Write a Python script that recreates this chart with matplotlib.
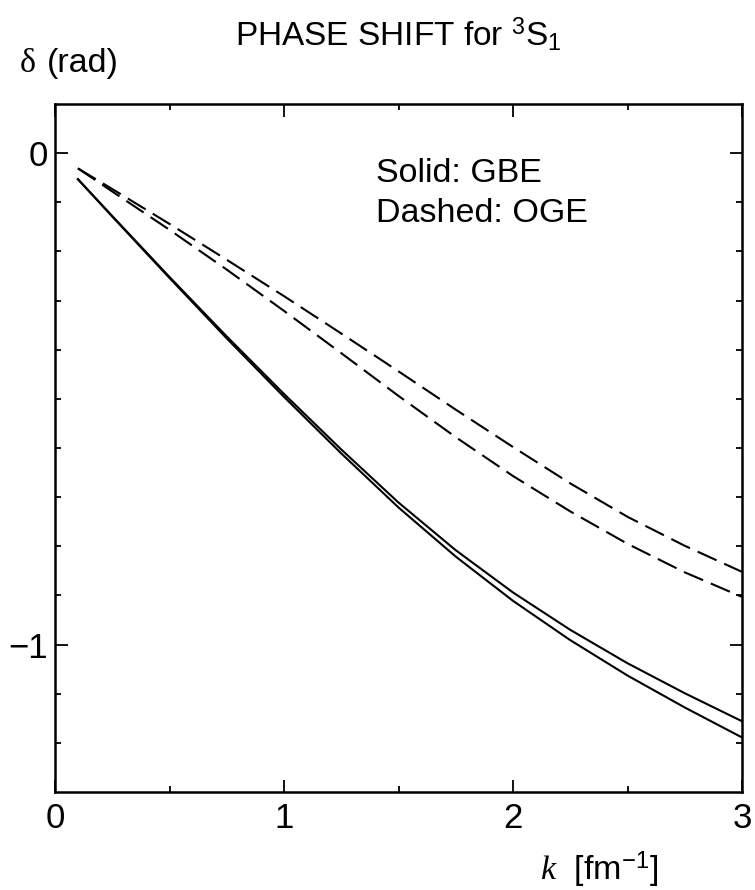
import matplotlib
matplotlib.use("Agg")
import matplotlib.pyplot as plt

plt.rcParams["font.family"] = ["Liberation Sans", "DejaVu Sans"]
plt.rcParams["mathtext.fontset"] = "custom"
plt.rcParams["mathtext.rm"] = "Liberation Sans"
plt.rcParams["mathtext.it"] = "Liberation Serif:italic"

# momentum k [fm^-1]
k = [0.1, 0.25, 0.5, 0.75, 1.0, 1.25, 1.5, 1.75, 2.0, 2.25, 2.5, 2.75, 3.0]

# GBE (solid), two curves
gbe_a = [-0.053, -0.128, -0.252, -0.373, -0.490, -0.603, -0.711, -0.808,
         -0.894, -0.970, -1.038, -1.099, -1.156]
gbe_b = [-0.053, -0.129, -0.254, -0.377, -0.496, -0.611, -0.721, -0.821,
         -0.911, -0.991, -1.063, -1.128, -1.189]

# OGE (dashed), two curves
oge_a = [-0.031, -0.073, -0.144, -0.217, -0.291, -0.367, -0.444, -0.522,
         -0.598, -0.672, -0.740, -0.799, -0.852]
oge_b = [-0.031, -0.078, -0.156, -0.237, -0.321, -0.407, -0.494, -0.578,
         -0.657, -0.729, -0.795, -0.853, -0.903]

W, H = 755, 890
fig = plt.figure(figsize=(W / 100, H / 100), dpi=100)
ax = fig.add_axes([55 / W, 1 - 792 / H, 687 / W, 688 / H])

lw = 1.5
dash = (0, (10, 4))
ax.plot(k, gbe_a, color="black", lw=lw)
ax.plot(k, gbe_b, color="black", lw=lw)
ax.plot(k, oge_a, color="black", lw=lw, linestyle=dash)
ax.plot(k, oge_b, color="black", lw=lw, linestyle=dash)

ax.set_xlim(0, 3)
ax.set_ylim(-1.3, 0.1)
ax.set_xticks([0, 1, 2, 3])
ax.set_xticks([0.5, 1.5, 2.5], minor=True)
ax.set_yticks([-1, 0])
ax.set_yticks([-1.2, -1.1, -0.9, -0.8, -0.7, -0.6, -0.5, -0.4, -0.3,
               -0.2, -0.1], minor=True)
ax.set_xticklabels(["0", "1", "2", "3"])
ax.set_yticklabels(["\u22121", "0"])

for s in ax.spines.values():
    s.set_linewidth(1.8)
ax.tick_params(which="both", direction="in", top=True, right=True,
               width=1.3, labelsize=25)
ax.tick_params(which="major", length=9)
ax.tick_params(which="minor", length=4)
ax.tick_params(axis="x", pad=7)
ax.tick_params(axis="y", pad=5)

ax.text(0.467, 0.887, "Solid: GBE", transform=ax.transAxes,
        fontsize=24.5, va="baseline", ha="left")
ax.text(0.467, 0.828, "Dashed: OGE", transform=ax.transAxes,
        fontsize=24.5, va="baseline", ha="left")

fig.text(398 / W, 1 - 45 / H, r"PHASE SHIFT for $^{3}$S$_{1}$",
         fontsize=24, ha="center", va="baseline")
fig.text(20 / W, 1 - 72 / H, "\u03b4", family="Liberation Serif",
         fontsize=24.5, ha="left", va="baseline")
fig.text(47 / W, 1 - 72 / H, "(rad)", fontsize=24.5, ha="left",
         va="baseline")
fig.text(540 / W, 1 - 880 / H, r"$k$  [fm$^{-1}$]", fontsize=24.5,
         ha="left", va="baseline")

fig.savefig("out.png", dpi=100)
